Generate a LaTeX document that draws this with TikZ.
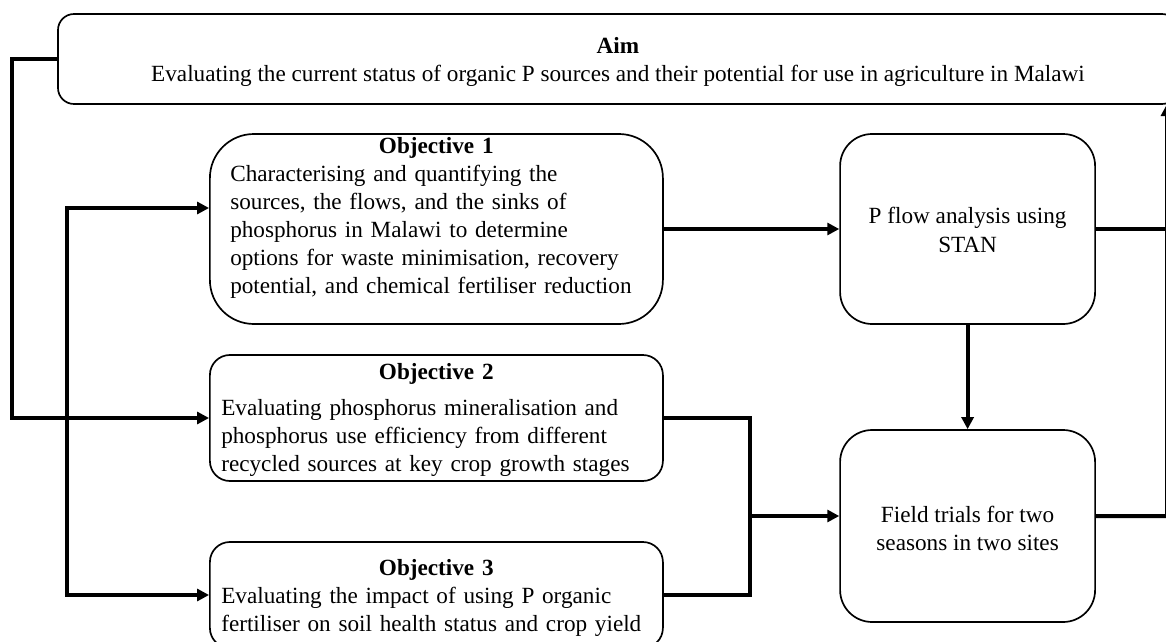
\documentclass[tikz,border=0pt]{standalone}
\usepackage{fontspec}
\setmainfont{Liberation Serif}
\usetikzlibrary{arrows.meta}

\tikzset{
  box/.style={draw, line width=1.2pt, rounded corners=#1, inner sep=0pt},
  box/.default=0.5cm,
  txt/.style={inner sep=0pt, font=\fontsize{16.5}{20}\selectfont},
  link/.style={line width=0.1cm},
  conn/.style={link, ->},
}

\begin{document}
\begin{tikzpicture}[>={Triangle[length=0.3cm,width=0.3cm]}]
\useasboundingbox (0,0) rectangle (29.15,-16.05);
\node[box=0.4cm, minimum width=28cm, minimum height=2.25cm] (aim) at (15.45,-1.475) {};
\node[box=1.1cm, minimum width=11.325cm, minimum height=4.75cm] (obj1) at (10.91,-5.725) {};
\node[box, minimum width=11.325cm, minimum height=3.15cm] (obj2) at (10.91,-10.45) {};
\node[box, minimum width=11.325cm, minimum height=2.65cm] (obj3) at (10.91,-14.875) {};
\node[box=0.8cm, minimum width=6.375cm, minimum height=4.75cm] (stan) at (24.19,-5.725) {};
\node[box=0.8cm, minimum width=6.375cm, minimum height=4.8cm] (field) at (24.19,-13.15) {};

\node[txt, align=center] (aimtxt) at (15.45,-1.54) {\textbf{Aim}\\Evaluating the current status of organic P sources and their potential for use in agriculture in Malawi};
\node[txt, anchor=west, text width=10.3cm, align=left] (obj1txt) at (5.75,-5.45) {{\centering\textbf{Objective 1}\par}Characterising and quantifying the\\sources, the flows, and the sinks of\\phosphorus in Malawi to determine\\options for waste minimisation, recovery\\potential, and chemical fertiliser reduction};
\node[txt, anchor=west, text width=10.75cm, align=left] (obj2txt) at (5.525,-10.5) {{\centering\textbf{Objective 2}\par}\vspace{0.2cm}Evaluating phosphorus mineralisation and\\phosphorus use efficiency from different\\recycled sources at key crop growth stages};
\node[txt, anchor=west, text width=10.75cm, align=left] (obj3txt) at (5.525,-14.94) {{\centering\textbf{Objective 3}\par}Evaluating the impact of using P organic\\fertiliser on soil health status and crop yield};
\node[txt, align=center] (stantxt) at (24.19,-5.75) {P flow analysis using\\STAN};
\node[txt, align=center] (fieldtxt) at (24.19,-13.21) {Field trials for two\\seasons in two sites};

\coordinate (outer) at (0.3,-10.45);
\coordinate (inner) at (1.675,-10.45);
\coordinate (join) at (18.75,-12.9);
\coordinate (back) at (29.175,-2.6);

\draw[conn] (aim.west) -| (outer) -- (obj2.west);
\draw[conn, <->] ([yshift=0.525cm]obj1.west) -| (inner) |- (obj3.west);
\draw[conn] (obj1.east) -- (stan.west);
\draw[conn] (stan.south) -- (field.north);
\draw[link] (obj2.east) -| (join) |- (obj3.east);
\draw[conn] (join) -- (join -| field.west);
\draw[link] (stan.east) -- (stan.east -| back);
\draw[link] ([yshift=0.25cm]field.east) -- (join -| back);
\draw[conn] (join -| back) -- (back);
\end{tikzpicture}
\end{document}
